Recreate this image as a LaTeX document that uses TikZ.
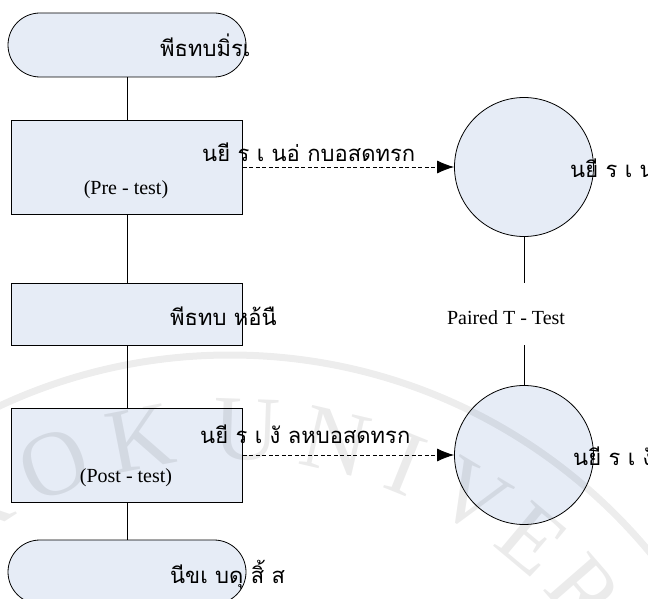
\documentclass[tikz,border=0pt]{standalone}
\usepackage{fontspec}
\setmainfont{Liberation Serif}
\newfontfamily\thaifont[Script=Thai]{Loma}
\usetikzlibrary{arrows.meta,calc}
\definecolor{boxfill}{RGB}{230,236,246}

\tikzset{
  flow/.style={draw=black, fill=boxfill, line width=0.8pt, inner sep=0pt},
  term/.style={flow, rectangle, rounded corners=32pt, minimum width=238pt, minimum height=64pt},
  proc/.style={flow, rectangle, minimum width=231pt},
  score/.style={flow, circle, minimum size=139pt},
  thtext/.style={font=\thaifont\fontsize{22}{26}\selectfont, inner sep=0pt, anchor=base west},
  lattext/.style={font=\fontsize{20}{22}\selectfont, inner sep=0pt},
  link/.style={draw=black, line width=0.8pt},
  flowarrow/.style={link, dash pattern=on 4pt off 2.5pt, -{Latex[length=17pt,width=13pt]}},
  sealletter/.style={font=\fontsize{92}{92}\selectfont, text=black, text opacity=0.08, inner sep=0pt},
}

\begin{document}
\begin{tikzpicture}[x=1pt,y=-1pt]
\useasboundingbox (0,0) rectangle (648,599);

% flow of the lesson
\node[term] (start) at (127,45) {};
\node[proc, minimum height=94pt] (pre) at (127,167) {};
\node[proc, minimum height=62pt] (lesson) at (127,314) {};
\node[proc, minimum height=94pt] (post) at (127,455) {};
\node[term] (finish) at (127,572) {};

% score circles
\node[score] (c1) at (524,167) {};
\node[score] (c2) at (524,455) {};

% connectors
\draw[link] (start) -- (pre);
\draw[link] (pre) -- (lesson);
\draw[link] (lesson) -- (post);
\draw[link] (post) -- (finish);
\draw[flowarrow] (pre.east) -- (c1.west);
\draw[flowarrow] (post.east) -- (c2.west);

% paired test between the two scores
\node[lattext] (paired) at (506,318) {Paired T - Test};
\coordinate (gaptop) at (524,283);
\coordinate (gapbot) at (524,345);
\draw[link] (c1.south) -- (gaptop);
\draw[link] (gapbot) -- (c2.north);

% labels
\node[thtext] (tstart) at (160,57) {พีธทบมิ่รเ};
\node[thtext] (tpre) at (202,161) {นยี ร เ นอ่  กบอสดทรก};
\node[lattext] (tpre2) at (126,190) {(Pre - test)};
\node[thtext] (tc1) at (570,177) {นยี ร เ น่อ};
\node[thtext] (tlesson) at (170,325) {พีธทบ หอ้นื};
\node[thtext] (tpost) at (200,443) {นยี ร เ งั  ลหบอสดทรก};
\node[lattext] (tpost2) at (126,478) {(Post - test)};
\node[thtext] (tc2) at (573,465) {นยี ร เ งั};
\node[thtext] (tfinish) at (170,583) {นีขเ บดุ  สิ้ ส};

% faint seal over the page
\coordinate (sealc) at (230,900);
\draw[line width=7pt, draw opacity=0.07] (sealc) circle[radius=545];
\foreach \ch/\a in {B/167,A/156,N/145,G/134,K/123,O/112,K/101,U/88,N/77,I/68,V/59,E/50,R/41,S/32,I/25,T/18,Y/9}
  \node[sealletter, rotate=\a-90] at ($(sealc)+({470*cos(\a)},{-470*sin(\a)})$) {\ch};
\end{tikzpicture}
\end{document}
